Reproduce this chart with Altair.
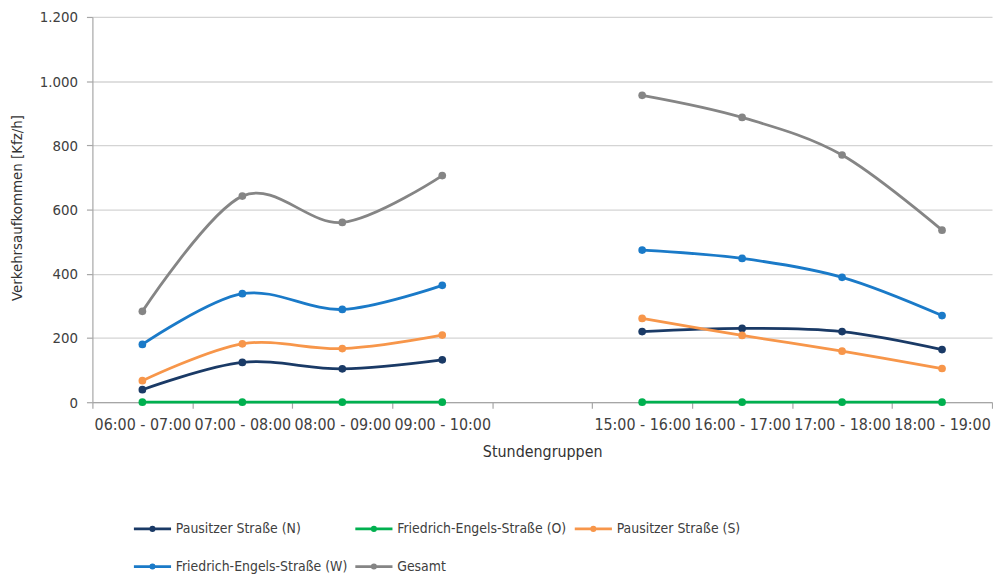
import altair as alt
import pandas as pd

# ---- data ----
categories = ["06:00 - 07:00", "07:00 - 08:00", "08:00 - 09:00", "09:00 - 10:00", " ",
              "15:00 - 16:00", "16:00 - 17:00", "17:00 - 18:00", "18:00 - 19:00"]
segments = ["vormittag", "vormittag", "vormittag", "vormittag", None,
            "nachmittag", "nachmittag", "nachmittag", "nachmittag"]
series_names = ["Pausitzer Straße (N)", "Friedrich-Engels-Straße (O)", "Pausitzer Straße (S)",
                "Friedrich-Engels-Straße (W)", "Gesamt"]
pausitzer_n = [39, 124, 104, 132, None, 220, 230, 220, 164]
friedrich_o = [0, 0, 0, 0, None, 0, 0, 0, 0]
pausitzer_s = [67, 182, 167, 209, None, 261, 208, 159, 105]
friedrich_w = [180, 338, 289, 364, None, 474, 448, 389, 270]
gesamt = [283, 642, 560, 706, None, 956, 887, 770, 536]
colors = ["#1a3a66", "#00b04f", "#f7964a", "#1a7ac8", "#858585"]
y_ticks = [0, 200, 400, 600, 800, 1000, 1200]

values = [pausitzer_n, friedrich_o, pausitzer_s, friedrich_w, gesamt]
rows = []
for s_idx, (name, vals) in enumerate(zip(series_names, values)):
    for cat, seg, v in zip(categories, segments, vals):
        if v is None:
            continue
        rows.append({"Stunde": cat, "Serie": name, "Wert": v,
                     "Abschnitt": seg, "ord": s_idx})
df = pd.DataFrame(rows)

FONT = "Liberation Sans Narrow, DejaVu Sans Condensed, Lato, sans-serif"
TXT = "#404040"

# stroked legend glyph: a line with a small dot in the middle
legend_symbol = ("M-1,0L1,0"
                 "M-0.09,0A0.09,0.09 0 1,1 0.09,0A0.09,0.09 0 1,1 -0.09,0Z")

x_enc = alt.X(
    "Stunde:N",
    sort=categories,
    bandPosition=0.5,
    scale=alt.Scale(type="band", domain=categories, paddingInner=0, paddingOuter=0),
    axis=alt.Axis(
        title="Stundengruppen", titleFont=FONT, titleFontSize=16, titleFontWeight="normal",
        titleColor="#333333", titleX=453, titleY=50, titleBaseline="middle", titleAlign="center",
        labelFont=FONT, labelFontSize=16, labelColor=TXT, labelAngle=0, labelPadding=8,
        labelBaseline="top", labelOverlap=False, labelLimit=200,
        tickBand="extent", tickSize=6, tickColor="#a6a6a6", tickWidth=1.2,
        domainColor="#a6a6a6", domainWidth=1.2, grid=False,
    ),
)
y_enc = alt.Y(
    "Wert:Q",
    scale=alt.Scale(domain=[0, 1200], nice=False),
    axis=alt.Axis(
        title="Verkehrsaufkommen [Kfz/h]", titleFont=FONT, titleFontSize=15,
        titleFontWeight="normal", titleColor="#333333", titleAngle=-90,
        titleX=-76, titleY=192, titleAlign="center", titleBaseline="middle",
        values=y_ticks, labelFont=FONT, labelFontSize=15, labelColor=TXT, labelPadding=9,
        labelExpr="replace(format(datum.value, ','), ',', '.')",
        tickSize=6, tickColor="#a6a6a6", tickWidth=1.2,
        domainColor="#a6a6a6", domainWidth=1.2,
        grid=True, gridColor="#d4d4d4", gridWidth=1.3,
    ),
)
color_scale = alt.Scale(domain=series_names, range=colors)

lines = alt.Chart(df).mark_line(interpolate="cardinal", strokeWidth=2.8).encode(
    x=x_enc, y=y_enc,
    color=alt.Color(
        "Serie:N", scale=color_scale, sort=series_names,
        legend=alt.Legend(
            title=None, orient="none", legendX=40, legendY=495, direction="horizontal",
            columns=3, columnPadding=2, rowPadding=10, padding=0,
            symbolType=legend_symbol, symbolSize=1400, symbolStrokeWidth=2.8,
            labelFont=FONT, labelFontSize=14, labelColor=TXT, labelOffset=3, labelLimit=300,
        ),
    ),
    detail=alt.Detail("Abschnitt:N"),
    order=alt.Order("ord:Q"),
)
points = alt.Chart(df).mark_point(filled=True, size=60, opacity=1, shape="circle").encode(
    x=x_enc, y=y_enc,
    fill=alt.Fill("Serie:N", scale=color_scale, sort=series_names, legend=None),
)

chart = alt.layer(lines, points).properties(
    width=906, height=388,
    autosize=alt.AutoSizeParams(type="none"),
    padding={"left": 85, "top": 7, "right": 1, "bottom": 174},
    background="white",
).configure_view(stroke=None)

chart.save("out.html", embed_options={"renderer": "svg", "actions": False})
